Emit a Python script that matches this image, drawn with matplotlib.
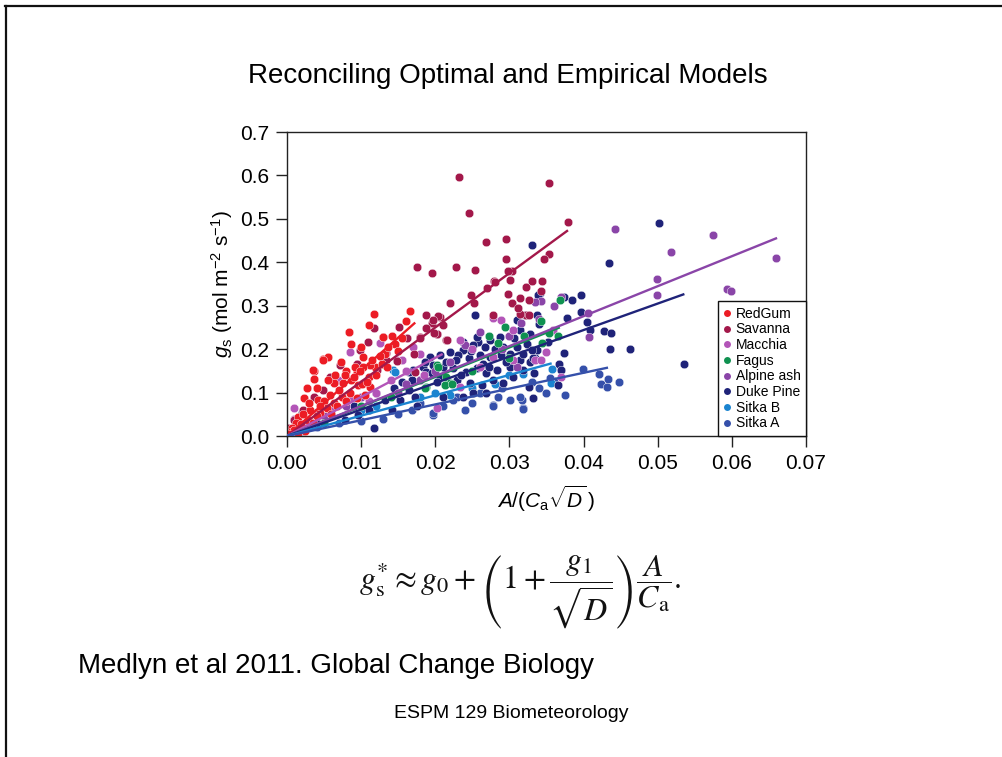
import matplotlib
matplotlib.use("Agg")
import matplotlib.pyplot as plt
from matplotlib.lines import Line2D

plt.rcParams['font.family'] = ['Liberation Sans', 'DejaVu Sans']
plt.rcParams['mathtext.fontset'] = 'custom'
plt.rcParams['mathtext.rm'] = 'Liberation Sans'
plt.rcParams['mathtext.it'] = 'Liberation Sans:italic'
plt.rcParams['mathtext.bf'] = 'Liberation Sans:bold'

# ---------------- data ----------------
series_names = ["RedGum", "Savanna", "Macchia", "Fagus", "Alpine ash", "Duke Pine", "Sitka B", "Sitka A"]
series_colors = ["#ec1c24", "#a3184a", "#b355b8", "#0f9150", "#8a45a8", "#1f2379", "#1b84d0", "#3550aa"]

redgum_x = [0.0118,0.0084,0.0086,0.0166,0.0141,0.0146,0.0129,0.0048,0.0055,0.0037,0.0073,0.0080,0.0102,0.0094,0.0110,
            0.0064,0.0056,0.0037,0.0027,0.0040,0.0042,0.0023,0.0050,0.0076,0.0087,0.0096,0.0101,0.0074,0.0063,0.0031,
            0.0015,0.0012,0.0007,0.0019,0.0029,0.0045,0.0054,0.0085,0.0094,0.0112,0.0119,0.0128,0.0112,0.0103,0.0092,
            0.0132,0.0136,0.0049,0.0035,0.0005,0.0010,0.0015,0.0020,0.0025,0.0003,0.0035,0.0040,0.0060,0.0068,0.0080,
            0.0105,0.0120,0.0150,0.0155,0.0100,0.0065,0.0030,0.0022,0.0110,0.0160,0.0070,0.0090,0.0115,0.0125,0.0058,
            0.0045,0.0135,0.0098,0.0078,0.0108]
redgum_y = [0.280,0.240,0.212,0.288,0.230,0.212,0.229,0.178,0.181,0.150,0.171,0.150,0.181,0.148,0.137,
            0.121,0.129,0.131,0.110,0.110,0.083,0.087,0.081,0.121,0.129,0.117,0.119,0.091,0.075,0.060,
            0.044,0.030,0.019,0.027,0.037,0.053,0.064,0.100,0.087,0.114,0.160,0.167,0.163,0.160,0.160,
            0.190,0.205,0.175,0.152,0.010,0.015,0.006,0.020,0.012,0.004,0.030,0.045,0.050,0.070,0.080,
            0.095,0.140,0.195,0.225,0.205,0.140,0.075,0.050,0.255,0.265,0.105,0.135,0.175,0.185,0.095,
            0.070,0.160,0.150,0.140,0.125]

savanna_x = [0.0232,0.0354,0.0246,0.0379,0.0268,0.0295,0.0295,0.0176,0.0196,0.0228,0.0253,0.0353,0.0347,0.0303,0.0279,
             0.0270,0.0301,0.0322,0.0330,0.0298,0.0248,0.0252,0.0220,0.0314,0.0326,0.0343,0.0344,0.0109,0.0118,0.0129,
             0.0151,0.0162,0.0134,0.0149,0.0188,0.0195,0.0206,0.0179,0.0188,0.0215,0.0202,0.0281,0.0298,0.0303,0.0323,
             0.0314,0.0094,0.0121,0.0134,0.0099,0.0072,0.0058,0.0049,0.0036,0.0022,0.0009,0.0002,0.0204,0.0197,0.0211,
             0.0198,0.0180,0.0216,0.0171,0.0173,0.0278,0.0312,0.0326]
savanna_y = [0.597,0.583,0.514,0.493,0.447,0.453,0.408,0.390,0.375,0.389,0.383,0.419,0.407,0.379,0.357,
             0.342,0.359,0.344,0.358,0.328,0.325,0.306,0.307,0.318,0.313,0.334,0.357,0.217,0.249,0.229,
             0.252,0.226,0.176,0.172,0.279,0.261,0.273,0.229,0.248,0.220,0.235,0.355,0.381,0.306,0.279,
             0.280,0.167,0.152,0.192,0.198,0.164,0.137,0.106,0.090,0.060,0.037,0.018,0.276,0.267,0.256,
             0.237,0.225,0.221,0.190,0.148,0.279,0.294,0.279]

macchia_x = [0.0009,0.0010,0.0069,0.0087,0.0085,0.0094,0.0103,0.0126,0.0149,0.0155,0.0179,0.0202,0.0233,0.0278,0.0288,
             0.0305,0.0278,0.0305,0.0335,0.0233,0.0202,0.0120,0.0140,0.0160,0.0060,0.0040,0.0110,0.0185,0.0250,0.0260,
             0.0350,0.0369,0.0359,0.0343,0.0130,0.0170]
macchia_y = [0.064,0.040,0.129,0.090,0.194,0.167,0.121,0.214,0.175,0.175,0.190,0.235,0.221,0.271,0.267,
             0.244,0.183,0.175,0.175,0.114,0.064,0.100,0.130,0.150,0.060,0.055,0.080,0.140,0.200,0.160,
             0.194,0.135,0.244,0.175,0.170,0.205]

fagus_x = [0.0368,0.0343,0.0354,0.0365,0.0344,0.0272,0.0294,0.0285,0.0202,0.0215,0.0220,0.0188,0.0204,0.0213,0.0222,
           0.0186,0.0250,0.0140,0.0100,0.0050,0.0300,0.0320]
fagus_y = [0.313,0.265,0.237,0.231,0.214,0.231,0.250,0.214,0.164,0.137,0.121,0.114,0.160,0.117,0.120,
           0.110,0.150,0.090,0.070,0.030,0.180,0.230]

alpine_x = [0.0442,0.0518,0.0575,0.0660,0.0499,0.0499,0.0593,0.0599,0.0408,0.0406,0.0343,0.0335,0.0300,0.0290,0.0260,
            0.0240,0.0220,0.0200,0.0180,0.0160,0.0150,0.0100,0.0080,0.0050,0.0030,0.0315,0.0340,0.0360,0.0370,0.0310]
alpine_y = [0.477,0.424,0.464,0.409,0.362,0.325,0.338,0.333,0.227,0.283,0.311,0.309,0.230,0.200,0.240,
            0.210,0.170,0.150,0.130,0.120,0.100,0.090,0.070,0.045,0.030,0.260,0.270,0.300,0.320,0.160]

duke_x = [0.0254,0.0258,0.0251,0.0267,0.0238,0.0231,0.0245,0.0261,0.0274,0.0288,0.0301,0.0310,0.0324,0.0314,0.0328,
          0.0301,0.0283,0.0269,0.0256,0.0242,0.0224,0.0211,0.0197,0.0184,0.0188,0.0179,0.0170,0.0193,0.0186,0.0206,
          0.0229,0.0247,0.0263,0.0278,0.0292,0.0305,0.0319,0.0335,0.0333,0.0326,0.0310,0.0321,0.0314,0.0328,0.0256,
          0.0238,0.0220,0.0206,0.0274,0.0292,0.0287,0.0337,0.0340,0.0118,0.0141,0.0152,0.0164,0.0168,0.0173,0.0132,
          0.0110,0.0096,0.0078,0.0020,0.0164,0.0330,0.0341,0.0502,0.0434,0.0373,0.0385,0.0397,0.0339,0.0377,0.0397,
          0.0404,0.0409,0.0428,0.0437,0.0436,0.0463,0.0373,0.0367,0.0370,0.0366,0.0332,0.0330,0.0332,0.0337,0.0352,
          0.0536,0.0251,0.0269,0.0238,0.0211,0.0175,0.0060,0.0040,0.0090,0.0120,0.0145,0.0155,0.0215,0.0235,
          0.0265,0.0296,0.0318,0.0280,0.0248,0.0228,0.0202,0.0196,0.0272,0.0306]
duke_y = [0.279,0.217,0.209,0.206,0.198,0.186,0.179,0.186,0.182,0.186,0.190,0.206,0.213,0.175,0.171,
          0.159,0.152,0.144,0.156,0.148,0.156,0.159,0.163,0.159,0.148,0.129,0.152,0.183,0.171,0.136,
          0.129,0.121,0.117,0.129,0.121,0.136,0.152,0.179,0.144,0.113,0.267,0.279,0.244,0.236,0.229,
          0.217,0.194,0.186,0.221,0.206,0.229,0.198,0.259,0.019,0.060,0.083,0.106,0.129,0.090,0.083,
          0.060,0.048,0.037,0.052,0.148,0.440,0.329,0.491,0.399,0.321,0.313,0.325,0.325,0.271,0.286,
          0.262,0.244,0.242,0.238,0.200,0.201,0.192,0.166,0.153,0.117,0.087,0.198,0.179,0.278,0.217,
          0.166,0.098,0.098,0.090,0.090,0.068,0.050,0.030,0.070,0.100,0.110,0.125,0.170,0.140,
          0.165,0.170,0.190,0.200,0.195,0.175,0.125,0.145,0.160,0.225]

sitkab_x = [0.0357,0.0356,0.0143,0.0319,0.0180,0.0146,0.0250,0.0280,0.0200,0.0100,0.0050,0.0300,0.0220,0.0120]
sitkab_y = [0.154,0.121,0.152,0.143,0.091,0.148,0.110,0.120,0.100,0.060,0.030,0.140,0.095,0.070]

sitkaa_x = [0.0399,0.0421,0.0433,0.0424,0.0431,0.0448,0.0375,0.0360,0.0355,0.0197,0.0278,0.0319,0.0317,0.0229,0.0301,
            0.0285,0.0278,0.0314,0.0319,0.0224,0.0197,0.0168,0.0150,0.0130,0.0100,0.0070,0.0040,0.0020,0.0250,0.0260,
            0.0340,0.0350,0.0240,0.0180,0.0210,0.0290,0.0330]
sitkaa_y = [0.154,0.143,0.131,0.120,0.112,0.124,0.094,0.127,0.133,0.048,0.071,0.064,0.083,0.091,0.083,
            0.090,0.068,0.090,0.063,0.083,0.052,0.060,0.050,0.040,0.035,0.030,0.020,0.012,0.075,0.100,
            0.110,0.100,0.060,0.075,0.070,0.110,0.125]

# fitted line slopes and x extents (same order as series_names)
fit_slopes = [15.1, 12.5, 9.0, 6.8, 6.9, 6.1, 4.69, 3.64]
fit_xmax = [0.0173, 0.0379, 0.0210, 0.0368, 0.0661, 0.0536, 0.0357, 0.0433]

xticks = [0.00, 0.01, 0.02, 0.03, 0.04, 0.05, 0.06, 0.07]
yticks = [0.0, 0.1, 0.2, 0.3, 0.4, 0.5, 0.6, 0.7]

series_data = {
    "RedGum": (redgum_x, redgum_y),
    "Savanna": (savanna_x, savanna_y),
    "Macchia": (macchia_x, macchia_y),
    "Fagus": (fagus_x, fagus_y),
    "Alpine ash": (alpine_x, alpine_y),
    "Duke Pine": (duke_x, duke_y),
    "Sitka B": (sitkab_x, sitkab_y),
    "Sitka A": (sitkaa_x, sitkaa_y),
}

# ---------------- figure ----------------
fig = plt.figure(figsize=(10.03, 7.57), dpi=100)
ax = fig.add_axes([0.2861, 0.4240, 0.5175, 0.4016])

draw_order = ["Sitka A", "Sitka B", "Duke Pine", "Alpine ash", "Macchia", "Fagus", "Savanna", "RedGum"]
color_of = dict(zip(series_names, series_colors))
for name in draw_order:
    xs, ys = series_data[name]
    ax.scatter(xs, ys, s=38, color=color_of[name], edgecolors='white', linewidths=0.3, zorder=2)

for name, slope, xm in zip(series_names, fit_slopes, fit_xmax):
    ax.plot([0, xm], [0, slope * xm], color=color_of[name], lw=1.7, zorder=3, solid_capstyle='butt')

ax.set_xlim(0, 0.07)
ax.set_ylim(0, 0.7)
ax.set_xticks(xticks)
ax.set_yticks(yticks)
ax.set_xticklabels([f"{v:.2f}" for v in xticks])
ax.set_yticklabels([f"{v:.1f}" for v in yticks])
ax.tick_params(direction='out', length=8, width=1.0, labelsize=15, pad=5, color='#222222')
for sp in ax.spines.values():
    sp.set_linewidth(1.0)
    sp.set_color('#222222')

ax.set_xlabel(r'$A/(C_{\rm a}\sqrt{D}\,)$', fontsize=15, labelpad=8)
ax.set_ylabel(r'$g_{\rm s}$ (mol m$^{-2}$ s$^{-1}$)', fontsize=15, labelpad=3)

handles = [Line2D([], [], ls='none', marker='o', markersize=5, color=c, markeredgewidth=0) for c in series_colors]
leg = ax.legend(handles, series_names, loc='lower right', bbox_to_anchor=(1.0, 0.0), borderaxespad=0,
                fontsize=10, handlelength=0.6, handletextpad=0.3, labelspacing=0.12,
                borderpad=0.4, fancybox=False, framealpha=1, edgecolor='#111111')
leg.get_frame().set_linewidth(1.0)

# ---------------- slide texts ----------------
fig.text(0.5065, 0.899, "Reconciling Optimal and Empirical Models", ha='center', va='center', fontsize=20)
fig.text(0.518, 0.218,
         r'$g_{\mathrm{s}}^{*} \approx g_0 + \left(1+\dfrac{g_1}{\sqrt{D}}\right)\dfrac{A}{C_{\mathrm{a}}}.$',
         ha='center', va='center', fontsize=23, math_fontfamily='stix', color='#111111')
fig.text(0.0778, 0.120, "Medlyn et al 2011. Global Change Biology", ha='left', va='center', fontsize=20)
fig.text(0.5095, 0.058, "ESPM 129 Biometeorology", ha='center', va='center', fontsize=14)

# slide frame (top and left edges)
fig.add_artist(Line2D([0.005, 1.0], [1 - 5.5 / 757, 1 - 5.5 / 757], transform=fig.transFigure, color='#111111', lw=1.6))
fig.add_artist(Line2D([6.5 / 1003, 6.5 / 1003], [0.0, 1 - 5.5 / 757], transform=fig.transFigure, color='#111111', lw=1.6))

fig.savefig("out.png", dpi=100)
